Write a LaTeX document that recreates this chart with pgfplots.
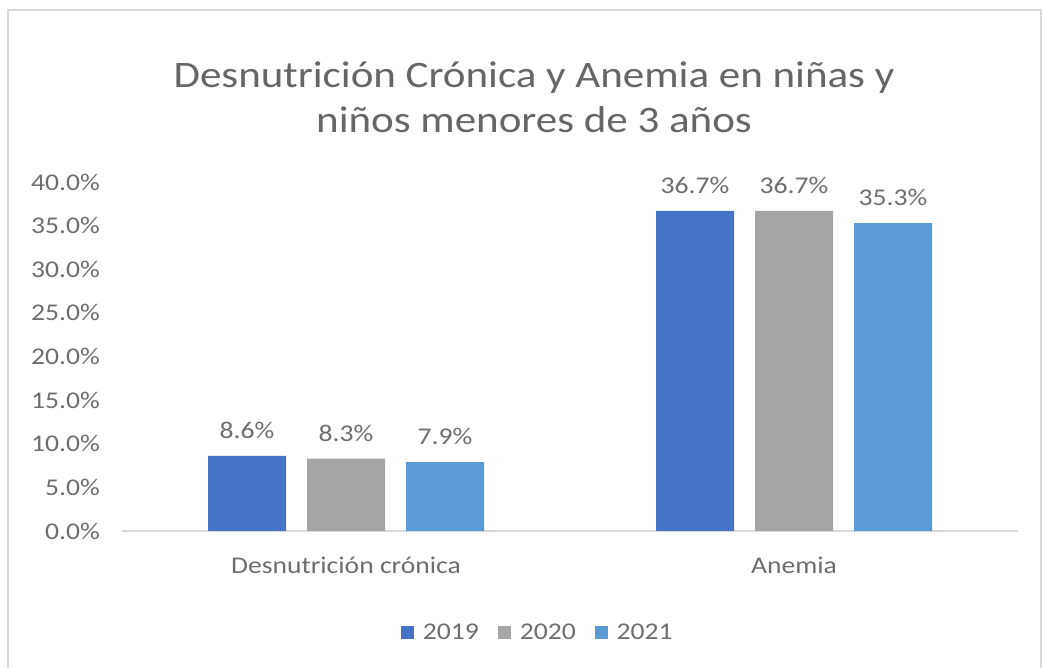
\documentclass[border=0pt]{standalone}
\usepackage{pgfplots}
\pgfplotsset{compat=1.18}
\usepackage{fontspec}
\setmainfont{Carlito}[FakeStretch=1.15]

\definecolor{c19}{HTML}{4472C4}
\definecolor{c20}{HTML}{A5A5A5}
\definecolor{c21}{HTML}{5B9BD5}
\definecolor{txt}{HTML}{6E6E6E}
\definecolor{ttl}{HTML}{666666}
\definecolor{lgrid}{HTML}{D9D9D9}

\begin{document}
\begin{tikzpicture}
\useasboundingbox (0,0) rectangle (1043bp,668bp);
\fill[white] (0,0) rectangle (1043bp,668bp);
\draw[lgrid, line width=1.5bp] (8bp,0) -- (8bp,658bp) -- (1041bp,658bp) -- (1041bp,0);
\node[text=ttl, align=center, font=\fontsize{37.4bp}{45bp}\selectfont] at (534bp,571bp) {Desnutrición Crónica y Anemia en niñas y\\niños menores de 3 años};
\begin{axis}[
  at={(122bp,137bp)}, anchor=south west,
  scale only axis, width=896bp, height=349bp,
  xmin=-0.5, xmax=1.5, ymin=0, ymax=40,
  ybar=21bp, bar width=78bp,
  xtick={0,1}, xticklabels={Desnutrición crónica, Anemia},
  ytick={0,5,...,40},
  /pgf/number format/assume math mode=true,
  yticklabel={\pgfmathprintnumber[fixed,fixed zerofill,precision=1]{\tick}\%},
  axis x line*=bottom, axis y line*=left,
  x axis line style={draw=lgrid, line width=1.5bp, -},
  y axis line style={draw=none},
  major tick length=0pt,
  ticklabel style={font=\fontsize{24bp}{28bp}\selectfont, text=txt},
  yticklabel style={anchor=east, inner sep=0pt, xshift=-22bp},
  xticklabel style={anchor=north, inner sep=0pt, yshift=-26bp},
  nodes near coords={\pgfmathprintnumber[fixed,fixed zerofill,precision=1]{\pgfplotspointmeta}\%},
  nodes near coords style={font=\fontsize{24bp}{28bp}\selectfont, text=txt, anchor=south, inner sep=0pt, yshift=17bp},
  legend style={at={(0.464,-0.292)}, anchor=center, draw=none, fill=none, legend columns=3,
    font=\fontsize{24bp}{28bp}\selectfont, text=txt,
    /tikz/every odd column/.append style={column sep=7bp},
    /tikz/every even column/.append style={column sep=17bp}},
  legend image code/.code={\fill[#1] (0bp,-6.5bp) rectangle (13bp,6.5bp);},
]
\addplot[fill=c19, draw=none] coordinates {(0,8.6) (1,36.7)};
\addplot[fill=c20, draw=none] coordinates {(0,8.3) (1,36.7)};
\addplot[fill=c21, draw=none] coordinates {(0,7.9) (1,35.3)};
\legend{2019,2020,2021}
\end{axis}
\end{tikzpicture}
\end{document}
